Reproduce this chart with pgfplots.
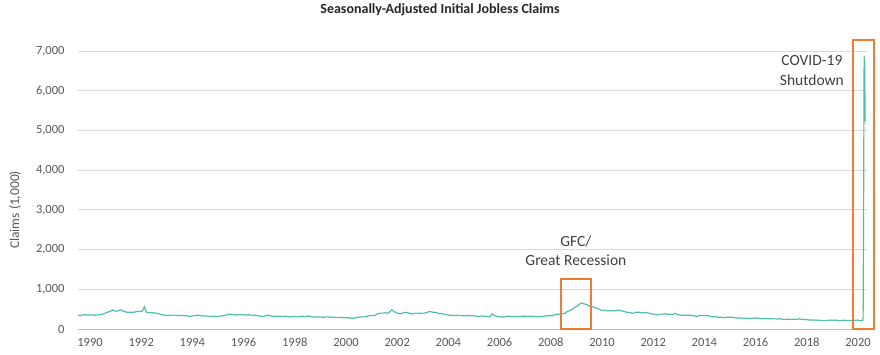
\documentclass[border=0pt]{standalone}
\usepackage{fontspec}
\setmainfont{Carlito}
\usepackage{pgfplots}
\usepackage{pgfplotstable}
\pgfplotsset{compat=1.18}
\definecolor{teal2}{HTML}{4DBFAA}
\definecolor{orng}{HTML}{ED7D31}
\definecolor{gridc}{HTML}{D9D9D9}
\definecolor{axc}{HTML}{BFBFBF}
\definecolor{txt}{HTML}{595959}
\definecolor{ann}{HTML}{404040}
% monthly averages, Jul 1989 - Feb 2020 (thousands)
\pgfplotstableread[row sep=\\]{
y\\
350\\340\\350\\365\\355\\350\\
360\\350\\345\\355\\360\\365\\385\\405\\430\\445\\480\\460\\
445\\470\\480\\455\\435\\420\\425\\420\\420\\435\\445\\440\\
450\\560\\420\\410\\415\\410\\400\\395\\380\\365\\350\\345\\
340\\345\\350\\350\\345\\340\\345\\340\\335\\330\\320\\325\\
335\\340\\350\\340\\330\\325\\330\\320\\315\\325\\320\\310\\
320\\330\\335\\345\\365\\375\\370\\360\\350\\360\\355\\365\\
355\\350\\365\\345\\350\\345\\340\\320\\325\\320\\335\\350\\
330\\325\\315\\325\\320\\320\\315\\320\\315\\305\\310\\315\\
315\\310\\310\\325\\310\\315\\330\\310\\305\\300\\300\\300\\
300\\295\\305\\305\\300\\295\\300\\290\\290\\295\\285\\280\\
285\\280\\270\\270\\280\\295\\300\\305\\305\\315\\330\\340\\
335\\345\\370\\395\\400\\400\\410\\395\\430\\480\\440\\410\\
390\\385\\400\\420\\410\\400\\385\\380\\400\\400\\390\\400\\
400\\405\\430\\440\\425\\420\\410\\390\\390\\380\\365\\360\\
345\\350\\340\\335\\345\\340\\335\\330\\340\\340\\330\\335\\
330\\315\\320\\330\\325\\320\\310\\315\\380\\340\\320\\315\\
300\\300\\305\\320\\320\\310\\315\\310\\315\\310\\320\\320\\
320\\325\\315\\325\\310\\310\\305\\320\\315\\325\\335\\340\\
330\\355\\370\\370\\370\\385\\390\\435\\455\\480\\515\\555\\
580\\630\\655\\635\\620\\600\\565\\560\\545\\525\\500\\475\\
475\\470\\455\\460\\460\\460\\460\\480\\460\\455\\440\\420\\
420\\405\\395\\420\\425\\420\\410\\410\\415\\405\\395\\380\\
375\\360\\360\\375\\375\\385\\370\\370\\375\\370\\395\\360\\
355\\345\\350\\345\\345\\345\\340\\330\\310\\345\\335\\340\\
335\\335\\325\\310\\305\\310\\295\\300\\290\\285\\295\\295\\
295\\295\\280\\275\\275\\275\\270\\275\\265\\265\\270\\275\\
280\\265\\260\\255\\265\\265\\255\\260\\255\\255\\250\\260\\
245\\240\\245\\245\\240\\245\\245\\240\\260\\240\\240\\235\\
230\\225\\225\\225\\220\\225\\215\\215\\210\\215\\225\\220\\
220\\225\\215\\210\\215\\220\\215\\215\\215\\215\\220\\225\\
215\\210\\
}\claims
\begin{document}
\begin{tikzpicture}
\useasboundingbox (0,0) rectangle (880pt,354pt);
\node[font=\bfseries\fontsize{14}{16}\selectfont, text=black!85] at (440pt,344pt) {Seasonally-Adjusted Initial Jobless Claims};
\node[rotate=90, font=\fontsize{13.5}{15}\selectfont, text=txt] at (15pt,144pt) {Claims (1,000)};
\begin{axis}[
  at={(78pt,25pt)}, anchor=south west,
  scale only axis, width=789pt, height=278pt,
  xmin=1989.531, xmax=2020.352, ymin=0, ymax=7000,
  separate axis lines,
  axis x line*=bottom, axis y line*=left,
  x axis line style={draw=axc, line width=0.8pt, -},
  y axis line style={draw=none},
  major tick length=0pt,
  ymajorgrids, grid style={draw=gridc, line width=0.8pt},
  ytick={0,1000,...,7000},
  xtick={1990,1992,...,2020},
  tick label style={font=\fontsize{12.5}{14}\selectfont, text=txt},
  /pgf/number format/assume math mode=true,
  yticklabel style={/pgf/number format/1000 sep={,}, xshift=-10pt},
  xticklabel style={/pgf/number format/1000 sep={}, yshift=-8pt, inner sep=1pt},
  clip=false,
]
\addplot[teal2, line width=1.2pt, no marks] table[x expr=1989.5+1/24+\coordindex/12, y=y] {\claims};
\addplot[teal2, line width=1.2pt, no marks] coordinates {(2020.125,210) (2020.18,211) (2020.20,282) (2020.22,3307) (2020.24,6867) (2020.26,6615) (2020.28,5237)};
\draw[orng, line width=1.8pt] (axis cs:2008.40,0) rectangle (axis cs:2009.57,1250);
\draw[orng, line width=1.8pt] (axis cs:2019.80,0) rectangle (axis cs:2020.625,7280);
\node[font=\fontsize{15.5}{17}\selectfont, text=ann] at (axis cs:2008.98,2217) {GFC/};
\node[font=\fontsize{15.5}{17}\selectfont, text=ann] at (axis cs:2008.98,1738) {Great Recession};
\node[font=\fontsize{15.5}{17}\selectfont, text=ann] at (axis cs:2018.20,6750) {COVID-19};
\node[font=\fontsize{15.5}{17}\selectfont, text=ann] at (axis cs:2018.20,6272) {Shutdown};
\end{axis}
\end{tikzpicture}
\end{document}
